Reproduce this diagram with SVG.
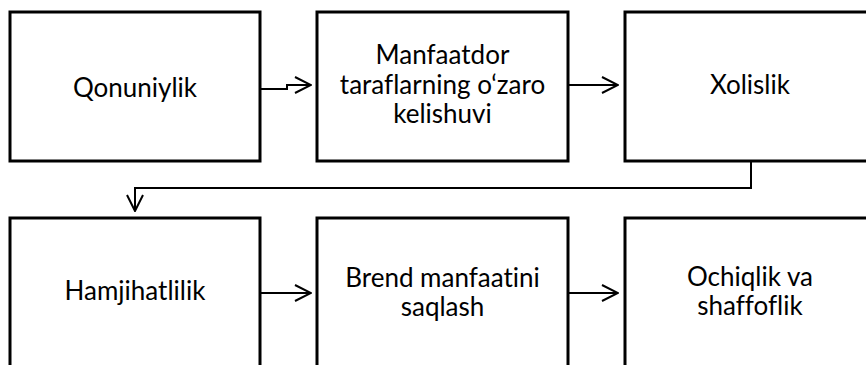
<svg xmlns="http://www.w3.org/2000/svg" width="866" height="365" viewBox="0 0 866 365">
<defs>
<style>
.box{fill:#ffffff;stroke:#000000;stroke-width:3}
.lbl{font-family:Lato,"Open Sans","Liberation Sans",sans-serif;font-size:26px;fill:#000000;text-anchor:middle;font-variant-ligatures:none}
.con{fill:none;stroke:#000000;stroke-width:2}
</style>
<marker id="arr" markerUnits="userSpaceOnUse" viewBox="0 0 18 18" refX="17" refY="9" markerWidth="18" markerHeight="18" orient="auto">
<path d="M1,1 L17,9 L1,17" fill="none" stroke="#000000" stroke-width="2"/>
</marker>
</defs>
<rect width="866" height="365" fill="#ffffff"/>
<g id="connectors">
<path class="con" d="M260,89 H287 V85 H311" marker-end="url(#arr)"/>
<path class="con" d="M568,85 H618" marker-end="url(#arr)"/>
<path class="con" d="M751,161 V188 H135 V211" marker-end="url(#arr)"/>
<path class="con" d="M260,293 H311" marker-end="url(#arr)"/>
<path class="con" d="M568,293 H618" marker-end="url(#arr)"/>
</g>
<g id="node-qonuniylik">
<rect class="box" x="10" y="12" width="250" height="149"/>
<text class="lbl" x="135" y="97">Qonuniylik</text>
</g>
<g id="node-manfaatdor">
<rect class="box" x="317" y="12" width="251" height="149"/>
<text class="lbl" x="442.5" y="64">Manfaatdor</text>
<text class="lbl" x="442.5" y="94">taraflarning o‘zaro</text>
<text class="lbl" x="442.5" y="123">kelishuvi</text>
</g>
<g id="node-xolislik">
<rect class="box" x="625" y="12" width="251" height="149"/>
<text class="lbl" x="750" y="94">Xolislik</text>
</g>
<g id="node-hamjihatlilik">
<rect class="box" x="10" y="218" width="250" height="160"/>
<text class="lbl" x="135" y="300">Hamjihatlilik</text>
</g>
<g id="node-brend">
<rect class="box" x="317" y="218" width="251" height="160"/>
<text class="lbl" x="442.5" y="287">Brend manfaatini</text>
<text class="lbl" x="442.5" y="316">saqlash</text>
</g>
<g id="node-ochiqlik">
<rect class="box" x="625" y="218" width="251" height="160"/>
<text class="lbl" x="750" y="286">Ochiqlik va</text>
<text class="lbl" x="750" y="315">shaffoflik</text>
</g>
</svg>
